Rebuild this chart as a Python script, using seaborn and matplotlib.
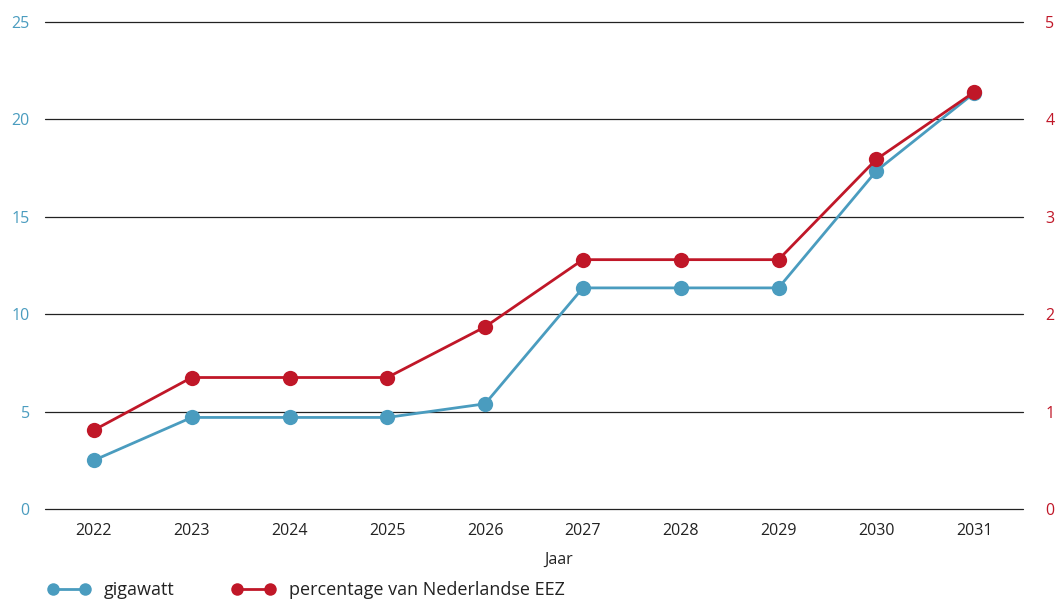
import matplotlib
matplotlib.use("Agg")
import matplotlib.pyplot as plt
import seaborn as sns
import pandas as pd
from matplotlib.lines import Line2D

years = ["2022", "2023", "2024", "2025", "2026", "2027", "2028", "2029", "2030", "2031"]
gigawatt = [2.5, 4.7, 4.7, 4.7, 5.4, 11.35, 11.35, 11.35, 17.35, 21.35]
percentage = [0.81, 1.35, 1.35, 1.35, 1.87, 2.56, 2.56, 2.56, 3.59, 4.28]
left_ticks = [0, 5, 10, 15, 20, 25]
right_ticks = [0, 1, 2, 3, 4, 5]

BLUE = "#4a9cbf"
RED = "#c01728"
TXT = "#222222"

sns.set_theme(style="white")
plt.rcParams["font.family"] = ["Open Sans", "DejaVu Sans"]

df = pd.DataFrame({"Jaar": years, "gigawatt": gigawatt, "percentage": percentage})

fig = plt.figure(figsize=(10.59, 6.02), dpi=100)
ax = fig.add_axes([45 / 1059, 1 - 509 / 602, (1023 - 45) / 1059, (509 - 22) / 602])
ax2 = ax.twinx()

sns.lineplot(data=df, x="Jaar", y="gigawatt", ax=ax, color=BLUE, marker="o",
             markersize=11, markeredgewidth=0, linewidth=2, sort=False)
sns.lineplot(data=df, x="Jaar", y="percentage", ax=ax2, color=RED, marker="o",
             markersize=11, markeredgewidth=0, linewidth=2, sort=False)

ax.set_ylim(0, 25)
ax2.set_ylim(0, 5)
ax.set_xlim(-0.5, len(years) - 0.5)
ax.set_yticks(left_ticks)
ax2.set_yticks(right_ticks)
for t in left_ticks:
    ax.axhline(t, color=TXT, linewidth=0.9, zorder=0, clip_on=False)

for a in (ax, ax2):
    for s in a.spines.values():
        s.set_visible(False)
    a.tick_params(length=0)

ax.tick_params(axis="y", labelcolor=BLUE, labelsize=11.5, pad=11)
ax2.tick_params(axis="y", labelcolor=RED, labelsize=11.5, pad=16)
ax.tick_params(axis="x", labelcolor=TXT, labelsize=11.5, pad=10)
ax.set_ylabel("")
ax2.set_ylabel("")
ax.set_xlabel("Jaar", fontsize=11.5, color=TXT)
ax.xaxis.set_label_coords((559 - 45) / 978, -(560 - 509) / 487, transform=ax.transAxes)
ax.xaxis.label.set_verticalalignment("center")

handles = [
    Line2D([0], [0], color=BLUE, marker="o", markersize=9, markeredgewidth=0, linewidth=2),
    Line2D([0], [0], color=RED, marker="o", markersize=9, markeredgewidth=0, linewidth=2),
]
fig.legend(handles, ["gigawatt", "percentage van Nederlandse EEZ"], loc="center left",
           bbox_to_anchor=(31 / 1059, 1 - 590 / 602), ncol=2, frameon=False,
           numpoints=2, fontsize=13, handlelength=2.4, handletextpad=0.75,
           columnspacing=3.15, labelcolor=TXT)

fig.savefig("out.png", dpi=100)
